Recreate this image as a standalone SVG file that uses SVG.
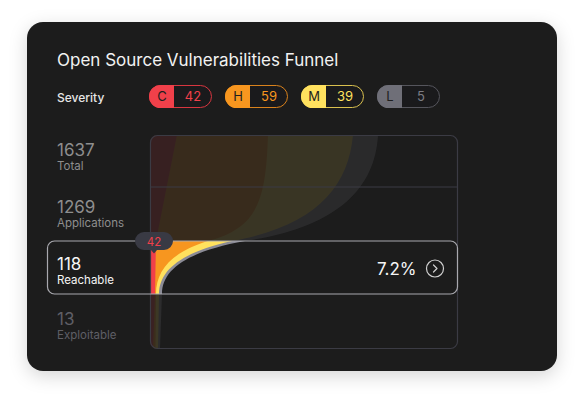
<svg xmlns="http://www.w3.org/2000/svg" width="584" height="404" viewBox="0 0 584 404">
<defs>
<filter id="sh" x="-20%" y="-20%" width="140%" height="150%">
<feDropShadow dx="0" dy="5" stdDeviation="9" flood-color="#000" flood-opacity="0.16"/>
</filter>
<clipPath id="chart"><rect x="150" y="135" width="308" height="214" rx="7"/></clipPath>
<clipPath id="top"><rect x="150" y="135" width="308" height="106"/></clipPath>
<clipPath id="mid"><rect x="150" y="241" width="308" height="53"/></clipPath>
<clipPath id="bot"><rect x="150" y="294" width="308" height="55"/></clipPath>
<g id="funnel">
<path fill="#8b8b96" d="M150,135 L378,135 C375,190 335,228 245,241 C190,251 162,268 162,294 L160,349 L150,349 Z"/>
<path fill="#ffe15e" d="M150,135 L353,135 C348,188 315,226 232,241 C182,252 159,270 159,294 L158,349 L150,349 Z"/>
<path fill="#f7961f" d="M150,135 L268,135 C266,200 258,228 208,241 C172,252 156,270 156,294 L155.5,349 L150,349 Z"/>
<path fill="#f0404a" d="M150,135 L177,135 L156,241 L155,294 L153,349 L150,349 Z"/>
</g>
</defs>
<style>
text{font-family:Inter,"Liberation Sans",sans-serif}
.title{font-size:17px;fill:#f2f2f2}
.sev{font-size:12px;fill:#e6e6e6;font-weight:500}
.pl{font-size:13px;text-anchor:middle;fill:#1e1e1e}
.pv{font-size:13px;text-anchor:middle}
.num{font-size:17px;fill:#8e8e8e}
.lab{font-size:11.5px;fill:#8e8e8e}
.dim{fill:#5f5f66}
.act{fill:#f5f5f5}
</style>
<rect width="584" height="404" fill="#ffffff"/>
<g id="card">
<rect x="27" y="22" width="530" height="349" rx="16" fill="#1e1e1e" filter="url(#sh)"/>
</g>
<g id="header">
<text class="title" x="57" y="66">Open Source Vulnerabilities Funnel</text>
<text class="sev" x="57" y="101.5">Severity</text>
</g>
<g id="pill-c">
<rect x="149.5" y="85.5" width="62" height="22" rx="11" fill="#1a1a1c" stroke="#d8363f"/>
<path d="M174,85 L160.5,85 A11.5,11.5 0 0 0 160.5,108 L174,108 Z" fill="#f0404a"/>
<text class="pl" x="162" y="101">C</text>
<text class="pv" x="193" y="101" fill="#f0404a">42</text>
</g>
<g id="pill-h">
<rect x="225.5" y="85.5" width="62" height="22" rx="11" fill="#1a1a1c" stroke="#d9821c"/>
<path d="M250,85 L236.5,85 A11.5,11.5 0 0 0 236.5,108 L250,108 Z" fill="#f7961f"/>
<text class="pl" x="238" y="101">H</text>
<text class="pv" x="269" y="101" fill="#f7961f">59</text>
</g>
<g id="pill-m">
<rect x="301.5" y="85.5" width="62" height="22" rx="11" fill="#1a1a1c" stroke="#d9c04e"/>
<path d="M326,85 L312.5,85 A11.5,11.5 0 0 0 312.5,108 L326,108 Z" fill="#ffe15e"/>
<text class="pl" x="314" y="101">M</text>
<text class="pv" x="345" y="101" fill="#ffe15e">39</text>
</g>
<g id="pill-l">
<rect x="377.5" y="85.5" width="62" height="22" rx="11" fill="#1a1a1c" stroke="#55555c"/>
<path d="M402,85 L388.5,85 A11.5,11.5 0 0 0 388.5,108 L402,108 Z" fill="#6f6f78"/>
<text class="pl" x="390" y="101">L</text>
<text class="pv" x="421" y="101" fill="#7c7c84">5</text>
</g>
<g id="chart">
<g clip-path="url(#chart)">
<g clip-path="url(#top)" opacity="0.13"><use href="#funnel"/></g>
<g clip-path="url(#mid)"><use href="#funnel"/></g>
<g clip-path="url(#bot)" opacity="0.14"><use href="#funnel"/></g>
</g>
<rect x="150.5" y="135.5" width="307" height="213" rx="7" fill="none" stroke="#3b3b44" stroke-width="1.2"/>
<line x1="151" y1="187" x2="457" y2="187" stroke="#3b3b44" stroke-width="1.2"/>
</g>
<g id="row-total">
<text class="num" x="57" y="156">1637</text>
<text class="lab" x="57" y="169.5">Total</text>
</g>
<g id="row-apps">
<text class="num" x="57" y="213">1269</text>
<text class="lab" x="57" y="226.5">Applications</text>
</g>
<g id="row-reachable">
<rect x="47.5" y="241" width="410" height="53" rx="7" fill="none" stroke="#a8a8ae" stroke-width="1.2"/>
<text class="num act" x="57" y="270">118</text>
<text class="lab act" x="57" y="283.5">Reachable</text>
<text class="num act" x="377" y="274.5">7.2%</text>
<circle cx="435" cy="268.5" r="8.5" fill="none" stroke="#d0d0d0" stroke-width="1.2"/>
<path d="M433.5,265 L437,268.5 L433.5,272" fill="none" stroke="#d0d0d0" stroke-width="1.2" stroke-linecap="round" stroke-linejoin="round"/>
</g>
<g id="row-exploitable">
<text class="num dim" x="57" y="325">13</text>
<text class="lab dim" x="57" y="338.5">Exploitable</text>
</g>
<g id="tag-42">
<path d="M144,232 L164,232 A9,9 0 0 1 164,250 L157,250 L154,253.5 L151,250 L144,250 A9,9 0 0 1 144,232 Z" fill="#393a44"/>
<text x="154" y="245.5" text-anchor="middle" style="font-size:11.5px" fill="#f0404a">42</text>
</g>
</svg>
